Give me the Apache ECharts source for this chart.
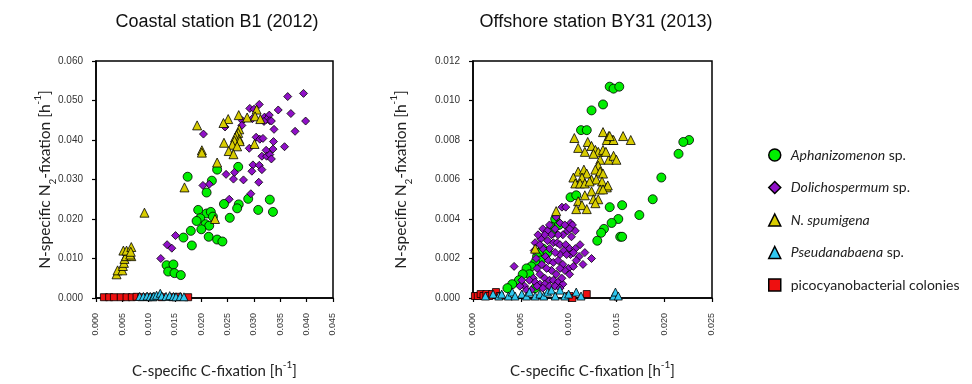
<!DOCTYPE html>
<html><head><meta charset="utf-8">
<script src="https://cdn.jsdelivr.net/npm/echarts@6/dist/echarts.min.js"></script>
<style>html,body{margin:0;padding:0;background:#fff}#c{width:972px;height:384px}</style>
</head><body><div id="c"></div>
<script>
// ---------- names / ticks ----------
const speciesNames = ['Aphanizomenon sp.', 'Dolichospermum sp.', 'N. spumigena', 'Pseudanabaena sp.', 'picocyanobacterial colonies'];
const panelTitles = ['Coastal station B1 (2012)', 'Offshore station BY31 (2013)'];
const b1XTicks = { min: 0, max: 0.045, step: 0.005 };
const b1YTicks = { min: 0, max: 0.060, step: 0.010 };
const by31XTicks = { min: 0, max: 0.025, step: 0.005 };
const by31YTicks = { min: 0, max: 0.012, step: 0.002 };

// ---------- Coastal station B1 (2012) ----------
const b1Aphanizomenon = [[0.0174,0.0307],[0.0230,0.0325],[0.0270,0.0332],[0.0220,0.0297],[0.0210,0.0267],[0.0194,0.0223],[0.0210,0.0214],[0.0218,0.0218],[0.0198,0.0202],[0.0191,0.0195],[0.0222,0.0206],[0.0208,0.0187],[0.0215,0.0183],[0.0200,0.0174],[0.0180,0.0170],[0.0166,0.0153],[0.0182,0.0133],[0.0214,0.0155],[0.0230,0.0148],[0.0240,0.0143],[0.0243,0.0238],[0.0271,0.0237],[0.0268,0.0227],[0.0254,0.0203],[0.0289,0.0251],[0.0308,0.0223],[0.0330,0.0249],[0.0336,0.0218],[0.0134,0.0083],[0.0147,0.0085],[0.0137,0.0067],[0.0149,0.0063],[0.0161,0.0058]];
const b1Dolichospermum = [[0.0394,0.0518],[0.0364,0.0510],[0.0370,0.0467],[0.0398,0.0448],[0.0378,0.0422],[0.0346,0.0476],[0.0310,0.0490],[0.0292,0.0480],[0.0300,0.0478],[0.0320,0.0458],[0.0329,0.0463],[0.0324,0.0452],[0.0330,0.0449],[0.0319,0.0447],[0.0333,0.0448],[0.0297,0.0454],[0.0278,0.0449],[0.0277,0.0437],[0.0245,0.0433],[0.0204,0.0415],[0.0338,0.0427],[0.0304,0.0407],[0.0311,0.0402],[0.0317,0.0404],[0.0337,0.0396],[0.0358,0.0383],[0.0336,0.0377],[0.0323,0.0374],[0.0291,0.0379],[0.0315,0.0359],[0.0324,0.0359],[0.0330,0.0363],[0.0333,0.0352],[0.0298,0.0337],[0.0310,0.0336],[0.0315,0.0325],[0.0296,0.0321],[0.0247,0.0313],[0.0263,0.0318],[0.0261,0.0301],[0.0280,0.0299],[0.0309,0.0293],[0.0215,0.0288],[0.0203,0.0285],[0.0294,0.0264],[0.0253,0.0250],[0.0151,0.0158],[0.0135,0.0135],[0.0144,0.0126],[0.0123,0.0100]];
const b1Nspumigena = [[0.0192,0.0437],[0.0271,0.0463],[0.0251,0.0453],[0.0242,0.0443],[0.0287,0.0457],[0.0305,0.0477],[0.0302,0.0460],[0.0312,0.0453],[0.0272,0.0427],[0.0270,0.0418],[0.0267,0.0412],[0.0264,0.0406],[0.0272,0.0402],[0.0263,0.0398],[0.0273,0.0397],[0.0243,0.0393],[0.0259,0.0388],[0.0268,0.0384],[0.0301,0.0390],[0.0252,0.0372],[0.0261,0.0364],[0.0201,0.0374],[0.0201,0.0368],[0.0230,0.0343],[0.0168,0.0280],[0.0226,0.0200],[0.0092,0.0216],[0.0039,0.0060],[0.0041,0.0070],[0.0050,0.0070],[0.0051,0.0081],[0.0053,0.0089],[0.0054,0.0099],[0.0057,0.0106],[0.0052,0.0120],[0.0058,0.0120],[0.0067,0.0129],[0.0067,0.0106],[0.0065,0.0110],[0.0066,0.0117]];
const b1Pseudanabaena = [[0.0083,0.0004],[0.0090,0.0004],[0.0097,0.0005],[0.0103,0.0004],[0.0108,0.0003],[0.0110,0.0005],[0.0115,0.0007],[0.0122,0.0012],[0.0125,0.0005],[0.0133,0.0004],[0.0140,0.0006],[0.0147,0.0004],[0.0152,0.0003],[0.0160,0.0004],[0.0167,0.0003]];
const b1Pico = [[0.0015,0.0002],[0.0025,0.0002],[0.0034,0.0002],[0.0047,0.0002],[0.0058,0.0002],[0.0068,0.0002],[0.0077,0.0003],[0.0086,0.0002],[0.0100,0.0002],[0.0125,0.0002],[0.0145,0.0002],[0.0156,0.0003],[0.0175,0.0002]];

// ---------- Offshore station BY31 (2013) ----------
const by31Aphanizomenon = [[0.0143,0.0107],[0.0147,0.0106],[0.0153,0.0107],[0.0136,0.0098],[0.0124,0.0095],[0.0113,0.0085],[0.0119,0.0085],[0.0226,0.0080],[0.0220,0.0079],[0.0215,0.0073],[0.0197,0.0061],[0.0188,0.0050],[0.0174,0.0042],[0.0156,0.0047],[0.0143,0.0046],[0.0152,0.0040],[0.0145,0.0038],[0.0137,0.0035],[0.0134,0.0033],[0.0130,0.0029],[0.0154,0.0031],[0.0156,0.0031],[0.0102,0.0051],[0.0108,0.0052],[0.0086,0.0040],[0.0082,0.0036],[0.0090,0.0037],[0.0083,0.0033],[0.0073,0.0025],[0.0069,0.0023],[0.0078,0.0023],[0.0067,0.0021],[0.0071,0.0019],[0.0065,0.0018],[0.0061,0.0016],[0.0056,0.0015],[0.0059,0.0012],[0.0052,0.0012],[0.0048,0.0009],[0.0041,0.0007],[0.0036,0.0005],[0.0065,0.0005]];
const by31Dolichospermum = [[0.0043,0.0016],[0.0093,0.0046],[0.0097,0.0046],[0.0073,0.0035],[0.0078,0.0034],[0.0065,0.0028],[0.0071,0.0030],[0.0102,0.0038],[0.0104,0.0037],[0.0107,0.0034],[0.0099,0.0034],[0.0094,0.0032],[0.0089,0.0032],[0.0084,0.0028],[0.0088,0.0028],[0.0091,0.0027],[0.0097,0.0027],[0.0101,0.0025],[0.0107,0.0025],[0.0112,0.0027],[0.0117,0.0023],[0.0111,0.0021],[0.0102,0.0022],[0.0124,0.0020],[0.0115,0.0017],[0.0103,0.0031],[0.0095,0.0024],[0.0091,0.0022],[0.0086,0.0023],[0.0080,0.0025],[0.0076,0.0021],[0.0079,0.0019],[0.0084,0.0018],[0.0089,0.0019],[0.0094,0.0017],[0.0100,0.0015],[0.0101,0.0012],[0.0096,0.0014],[0.0091,0.0015],[0.0087,0.0012],[0.0082,0.0014],[0.0077,0.0015],[0.0072,0.0017],[0.0067,0.0015],[0.0070,0.0012],[0.0075,0.0010],[0.0080,0.0009],[0.0084,0.0009],[0.0089,0.0008],[0.0094,0.0007],[0.0063,0.0010],[0.0059,0.0009],[0.0065,0.0008],[0.0070,0.0007],[0.0075,0.0007],[0.0080,0.0006],[0.0086,0.0006],[0.0054,0.0006],[0.0049,0.0006],[0.0051,0.0009],[0.0073,0.0005],[0.0067,0.0006],[0.0091,0.0005],[0.0061,0.0004],[0.0056,0.0004],[0.0066,0.0020],[0.0064,0.0024],[0.0073,0.0025],[0.0078,0.0029],[0.0082,0.0032],[0.0086,0.0035],[0.0091,0.0038],[0.0096,0.0037],[0.0101,0.0035],[0.0087,0.0041],[0.0080,0.0037],[0.0075,0.0032],[0.0070,0.0027],[0.0068,0.0032],[0.0098,0.0022],[0.0105,0.0023],[0.0108,0.0019],[0.0105,0.0016],[0.0093,0.0010]];
const by31Nspumigena = [[0.0106,0.0081],[0.0136,0.0084],[0.0142,0.0082],[0.0146,0.0080],[0.0157,0.0082],[0.0165,0.0080],[0.0120,0.0079],[0.0110,0.0076],[0.0117,0.0074],[0.0124,0.0077],[0.0128,0.0075],[0.0131,0.0074],[0.0126,0.0073],[0.0136,0.0075],[0.0140,0.0080],[0.0147,0.0080],[0.0142,0.0070],[0.0147,0.0072],[0.0150,0.0070],[0.0133,0.0070],[0.0131,0.0067],[0.0110,0.0064],[0.0116,0.0065],[0.0119,0.0063],[0.0128,0.0065],[0.0133,0.0064],[0.0136,0.0063],[0.0105,0.0061],[0.0114,0.0061],[0.0124,0.0060],[0.0129,0.0060],[0.0107,0.0058],[0.0112,0.0058],[0.0117,0.0058],[0.0122,0.0059],[0.0135,0.0059],[0.0140,0.0056],[0.0133,0.0055],[0.0124,0.0054],[0.0117,0.0052],[0.0126,0.0050],[0.0131,0.0050],[0.0128,0.0048],[0.0110,0.0049],[0.0114,0.0047],[0.0119,0.0045],[0.0108,0.0045],[0.0139,0.0074],[0.0143,0.0082],[0.0141,0.0057],[0.0136,0.0055],[0.0087,0.0044],[0.0065,0.0025]];
const by31Pseudanabaena = [[0.0013,0.0001],[0.0021,0.0002],[0.0027,0.0001],[0.0030,0.0002],[0.0037,0.0001],[0.0041,0.0003],[0.0044,0.0001],[0.0051,0.0002],[0.0056,0.0001],[0.0059,0.0003],[0.0065,0.0001],[0.0070,0.0002],[0.0074,0.0001],[0.0078,0.0003],[0.0082,0.0004],[0.0086,0.0001],[0.0091,0.0004],[0.0096,0.0001],[0.0100,0.0002],[0.0108,0.0003],[0.0113,0.0001],[0.0147,0.0001],[0.0149,0.0003],[0.0152,0.0001]];
const by31Pico = [[0.0002,0.0001],[0.0005,0.0001],[0.0008,0.0002],[0.0011,0.0001],[0.0014,0.0002],[0.0017,0.0001],[0.0020,0.0002],[0.0024,0.0003],[0.0028,0.0001],[0.0101,0.0001],[0.0104,0.0000],[0.0119,0.0002]];

// ---------- styles ----------
const colors = ['#00ee00', '#9010c8', '#d8cc00', '#30c8f0', '#ee1010'];
const symbols = ['circle', 'diamond', 'triangle', 'triangle', 'rect'];
const sizes = [9, 8, 9, 8, 7];

const baseFont = 'Liberation Sans, Arial, sans-serif';
const nameFont = 'Lato, "Open Sans", sans-serif';
const nameRich = {
  sub: { fontFamily: nameFont, fontSize: 10, verticalAlign: 'bottom', lineHeight: 10, padding: [0, 0, -5, 0] },
  sup: { fontFamily: nameFont, fontSize: 10, verticalAlign: 'top', lineHeight: 10, padding: [-4, 0, 0, 0] }
};

function xAxis(grid, t) {
  return {
    type: 'value', gridIndex: grid, min: t.min, max: t.max, interval: t.step,
    name: 'C-specific C-fixation [h{sup|-1}]', nameLocation: 'middle', nameGap: 66, nameMoveOverlap: false,
    nameTextStyle: { fontFamily: nameFont, fontSize: 15, color: '#222', rich: nameRich },
    axisLine: { show: true, onZero: false, lineStyle: { color: '#000', width: 1.5 } },
    axisTick: { show: true, inside: false, length: 4, lineStyle: { color: '#000', width: 1.2 } },
    splitLine: { show: false },
    axisLabel: { rotate: 90, margin: 15, fontSize: 9, fontFamily: baseFont, color: '#333',
      showMinLabel: true, showMaxLabel: true, formatter: v => v.toFixed(3) }
  };
}
function yAxis(grid, t, gap) {
  return {
    type: 'value', gridIndex: grid, min: t.min, max: t.max, interval: t.step,
    name: 'N-specific N{sub|2}-fixation [h{sup|-1}]', nameLocation: 'middle', nameGap: gap, nameRotate: 90, nameMoveOverlap: false,
    nameTextStyle: { fontFamily: nameFont, fontSize: 15.5, color: '#222', rich: nameRich },
    axisLine: { show: true, onZero: false, lineStyle: { color: '#000', width: 1.5 } },
    axisTick: { show: true, inside: false, length: 4, lineStyle: { color: '#000', width: 1.2 } },
    splitLine: { show: false },
    axisLabel: { margin: 13, fontSize: 10, fontFamily: baseFont, color: '#333',
      showMinLabel: true, showMaxLabel: true, formatter: v => v.toFixed(3) }
  };
}
function sc(i, grid, data) {
  return {
    type: 'scatter', name: speciesNames[i], xAxisIndex: grid, yAxisIndex: grid,
    data: data, symbol: symbols[i], symbolSize: sizes[i],
    itemStyle: { color: colors[i], borderColor: '#000', borderWidth: 0.8, opacity: 1 },
    emphasis: { disabled: true }, animation: false
  };
}
const b1Sets = [b1Aphanizomenon, b1Dolichospermum, b1Nspumigena, b1Pseudanabaena, b1Pico];
const by31Sets = [by31Aphanizomenon, by31Dolichospermum, by31Nspumigena, by31Pseudanabaena, by31Pico];
const drawOrder = [4, 0, 1, 2, 3];
const series = [];
drawOrder.forEach(i => series.push(sc(i, 0, b1Sets[i])));
drawOrder.forEach(i => series.push(sc(i, 1, by31Sets[i])));

const italicPart = { 'Aphanizomenon sp.': ['Aphanizomenon', ' sp.'], 'Dolichospermum sp.': ['Dolichospermum', ' sp.'],
  'N. spumigena': ['N. spumigena', ''], 'Pseudanabaena sp.': ['Pseudanabaena', ' sp.'], 'picocyanobacterial colonies': ['', 'picocyanobacterial colonies'] };

const chart = echarts.init(document.getElementById('c'), null, { renderer: 'canvas' });
chart.setOption({
  animation: false,
  backgroundColor: '#fff',
  title: [
    { text: panelTitles[0], left: 212, top: 8, textAlign: 'center', textStyle: { fontFamily: baseFont, fontSize: 18, fontWeight: 'normal', color: '#111' } },
    { text: panelTitles[1], left: 591, top: 8, textAlign: 'center', textStyle: { fontFamily: baseFont, fontSize: 18, fontWeight: 'normal', color: '#111' } }
  ],
  grid: [
    { left: 96, top: 61, width: 237, height: 240, show: true, borderColor: '#000', borderWidth: 1.5, backgroundColor: 'transparent', containLabel: false },
    { left: 473, top: 61, width: 239, height: 240, show: true, borderColor: '#000', borderWidth: 1.5, backgroundColor: 'transparent', containLabel: false }
  ],
  xAxis: [xAxis(0, b1XTicks), xAxis(1, by31XTicks)],
  yAxis: [yAxis(0, b1YTicks, 43), yAxis(1, by31YTicks, 64)],
  legend: {
    data: speciesNames, orient: 'vertical', left: 763, top: 143,
    itemWidth: 12, itemHeight: 12, itemGap: 18.5, selectedMode: false,
    itemStyle: { borderColor: '#000', borderWidth: 1.5 },
    textStyle: { fontFamily: nameFont, fontSize: 14, color: '#222', padding: [0, 0, 0, 5],
      rich: { i: { fontFamily: nameFont, fontSize: 14, fontStyle: 'italic', color: '#222' },
              n: { fontFamily: nameFont, fontSize: 14, color: '#222' } } },
    formatter: name => {
      const p = italicPart[name];
      return (p[0] ? '{i|' + p[0] + '}' : '') + (p[1] ? '{n|' + p[1] + '}' : '');
    }
  },
  series: series
});
</script>
</body></html>
